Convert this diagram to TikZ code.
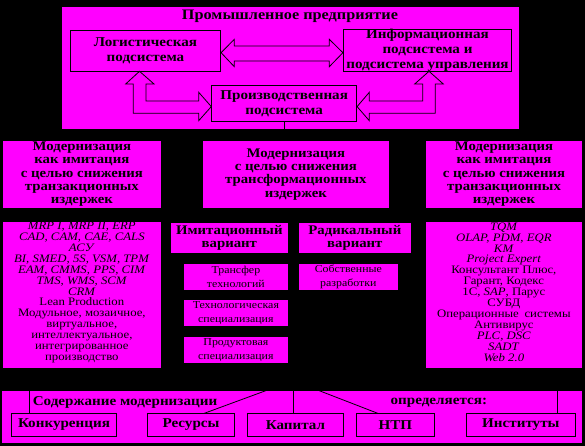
\documentclass[tikz,border=0pt]{standalone}
\usepackage{fontspec}
\setmainfont{Liberation Serif}[FakeStretch=1.12]
\definecolor{mag}{RGB}{255,0,255}
\begin{document}
\begin{tikzpicture}[x=1pt,y=-1pt,
  panel/.style={fill=mag, draw=none, inner sep=0pt, align=center},
  framed/.style={fill=mag, draw=black, line width=0.8pt, inner sep=0pt, align=center},
  plain/.style={inner sep=0pt, align=center},
  fbig/.style={font=\bfseries\fontsize{13.5}{15}\selectfont},
  ftitle/.style={font=\bfseries\fontsize{14.5}{15}\selectfont},
  fmid/.style={font=\bfseries\fontsize{13.2}{13.4}\selectfont},
  fsmall/.style={font=\fontsize{10.6}{14}\selectfont},
  flist/.style={font=\fontsize{11.4}{10.9}\selectfont},
  arr/.style={draw=black, line width=0.8pt, fill=mag, line join=miter},
  conn/.style={draw=black, line width=0.8pt}
]
\fill[black] (0,0) rectangle (585,446);
\useasboundingbox (0,0) rectangle (585,446);

% ---- top panel ----
\node[panel, minimum width=457.3pt, minimum height=122pt] (ent) at (290.35,68.3) {};
\node[plain, ftitle] (title) at (290,16.5) {Промышленное предприятие};
\node[framed, fbig, minimum width=150.4pt, minimum height=41.3pt] (log) at (145.5,50.65) {Логистическая\\подсистема};
\node[framed, fbig, minimum width=168.4pt, minimum height=41.3pt] (inf) at (427.5,50.65) {Информационная\\подсистема и\\подсистема управления};
\node[framed, fbig, minimum width=145pt, minimum height=36.4pt] (prod) at (284.2,103.5) {Производственная\\подсистема};

% double arrows
\draw[arr] (log.east |- 0,52.7) -- (234.3,39.3) -- (234.3,46) -- (329.3,46) -- (329.3,39.3)
  -- (inf.west |- 0,52.7) -- (329.3,66.7) -- (329.3,61) -- (234.3,61) -- (234.3,66.7) -- cycle;
\draw[arr] (139.5,71.3) -- (154,84) -- (146,84) -- (146,101) -- (198.7,101) -- (198.7,92.3)
  -- (prod.west |- 0,106.6) -- (198.7,120.7) -- (198.7,113.3) -- (133.3,113.3) -- (133.3,84) -- (125.7,84) -- cycle;
\draw[arr] (429,71.3) -- (443.3,84) -- (435.3,84) -- (435.3,113.3) -- (369.3,113.3) -- (369.3,120.7)
  -- (prod.east |- 0,106.6) -- (369.3,92.3) -- (369.3,101) -- (422.7,101) -- (422.7,84) -- (414.7,84) -- cycle;
\coordinate (entb) at (284.3,129.3);
\draw[conn] (prod.south -| entb) -- (entb);

% ---- second row ----
\node[panel, fmid, minimum width=158.3pt, minimum height=67pt] (m1) at (81.85,174.2)
  {Модернизация\\как имитация\\с целью снижения\\транзакционных\\издержек};
\node[panel, fmid, minimum width=186.3pt, minimum height=67pt] (m2) at (295.85,174.2)
  {Модернизация\\с целью снижения\\трансформационных\\издержек};
\node[panel, fmid, minimum width=156pt, minimum height=67pt] (m3) at (504,174.2)
  {Модернизация\\как имитация\\с целью снижения\\транзакционных\\издержек};

% ---- third row ----
\node[panel, minimum width=158.3pt, minimum height=145.4pt] (l3) at (81.85,295) {};
\node[plain, flist] (l3t) at (81.85,292.5)
  {\textit{MRP I, MRP II, ERP}\\\textit{CAD, CAM, CAE, CALS}\\\textit{АСУ}\\\textit{BI, SMED, 5S, VSM, TPM}\\\textit{EAM, CMMS, PPS, CIM}\\\textit{TMS, WMS, SCM}\\\textit{CRM}\\Lean Production\\Модульное, мозаичное,\\виртуальное,\\интеллектуальное,\\интегрированное\\производство};
\node[panel, minimum width=156.3pt, minimum height=145.4pt] (r3) at (503.85,295) {};
\node[plain, flist] (r3t) at (503.85,292)
  {\textit{TQM}\\\textit{OLAP, PDM, EQR}\\\textit{KM}\\\textit{Project Expert}\\Консультант Плюс,\\Гарант, Кодекс\\1С, \textit{SAP}, Парус\\СУБД\\Операционные\enspace системы\\Антивирус\\\textit{PLC, DSC}\\\textit{SADT}\\\textit{Web 2.0}};

\node[panel, fmid, minimum width=116.7pt, minimum height=30pt] (iv) at (229.35,237.7) {Имитационный\\вариант};
\node[panel, fmid, minimum width=111.7pt, minimum height=30pt] (rv) at (354.85,237.7) {Радикальный\\вариант};
\node[panel, fsmall, minimum width=103.7pt, minimum height=26pt] (tt) at (235.85,276.5) {Трансфер\\технологий};
\node[panel, fsmall, minimum width=98.7pt, minimum height=26pt] (sr) at (348.35,276.5) {Собственные\\разработки};
\node[panel, fsmall, minimum width=103.7pt, minimum height=25.7pt] (ts) at (235.85,312.85) {Технологическая\\специализация};
\node[panel, fsmall, minimum width=103.7pt, minimum height=25.7pt] (ps) at (235.85,349.85) {Продуктовая\\специализация};

% ---- bottom panel ----
\node[panel, minimum width=580.6pt, minimum height=52.6pt] (bot) at (292,417) {};
\node[plain, fbig] (bl) at (125,402.3) {Содержание модернизации};
\node[plain, fbig] (br) at (438.8,402.3) {определяется:};
\node[framed, fbig, minimum width=104.6pt, minimum height=23pt] (kon) at (64,424.8) {Конкуренция};
\node[framed, fbig, minimum width=86.6pt, minimum height=23pt] (res) at (191,424.8) {Ресурсы};
\node[framed, fbig, minimum width=96.4pt, minimum height=23pt] (cap) at (295.5,424.8) {Капитал};
\node[framed, fbig, minimum width=78pt, minimum height=23pt] (ntp) at (395.3,424.8) {НТП};
\node[framed, fbig, minimum width=109.7pt, minimum height=23pt] (ins) at (520.85,424.8) {Институты};

\coordinate (c1) at (29.3,390.7);
\coordinate (c2) at (265.7,390.7);
\coordinate (c3) at (293.3,390.7);
\coordinate (c4) at (319.3,390.7);
\coordinate (c5) at (557.3,390.7);
\draw[conn] (c1) -- (c1 |- kon.north);
\draw[conn] (c2) -- (204.3,413.3);
\draw[conn] (c3) -- (c3 |- cap.north);
\draw[conn] (c4) -- (377.7,413.3);
\draw[conn] (c5) -- (c5 |- ins.north);
\end{tikzpicture}
\end{document}
